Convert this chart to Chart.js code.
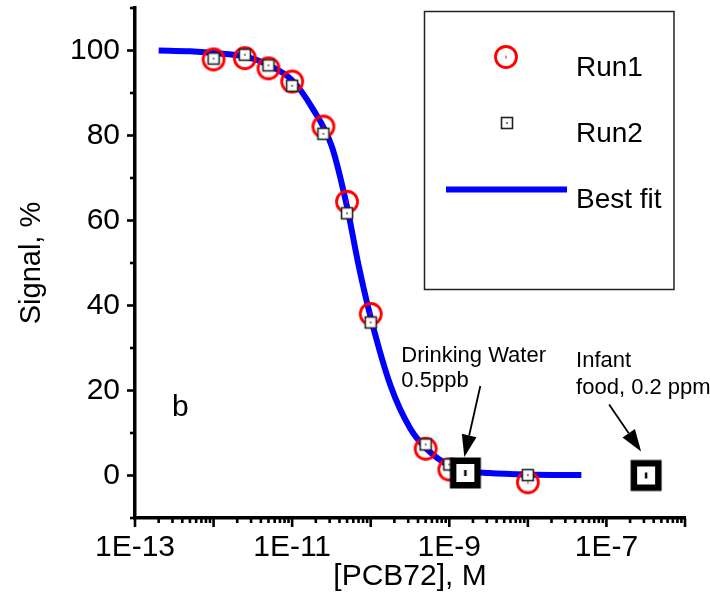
<!DOCTYPE html>
<html>
<head>
<meta charset="utf-8">
<script src="https://cdn.jsdelivr.net/npm/chart.js@4.4.1/dist/chart.umd.min.js"></script>
<style>
  html, body { margin: 0; padding: 0; background: #fff; }
  #wrap { width: 710px; height: 610px; }
</style>
</head>
<body>
<div id="wrap"><canvas id="chart" width="710" height="610"></canvas></div>
<script>
// ─── DATA ─────────────────────────────────────────────────────
const runConc   = [1e-12, 2.5e-12, 5e-12, 1e-11, 2.5e-11, 5e-11, 1e-10, 5e-10, 1e-9, 1e-8];
const run1      = [97.9, 98.2, 95.8, 92.7, 82.1, 64.4, 38.0, 6.3, 1.4, -1.6];
const run2      = [98.1, 99.0, 96.5, 91.7, 80.4, 61.7, 36.0, 7.3, 2.6, 0.1];

const fitConc   = [2e-13, 5e-13, 1e-12, 2.5e-12, 5e-12, 1e-11, 1.8e-11, 3.2e-11, 5e-11, 7e-11,
                   1e-10, 1.8e-10, 3.2e-10, 5e-10, 1e-9, 1.6e-9, 3.2e-9, 1e-8, 4.8e-8];
const fitSignal = [100.0, 99.8, 99.4, 98.6, 96.6, 93.0, 86.5, 77.4, 63.2, 49.5,
                   37.2, 21.0, 11.0, 6.5, 2.3, 1.1, 0.6, 0.25, 0.1];

const limitConc   = [1.6e-9, 3.2e-7];
const limitSignal = [0.6, 0];
const limitText   = [['Drinking Water', '0.5ppb'], ['Infant', 'food, 0.2 ppm']];

const xDecades    = [1e-13, 1e-12, 1e-11, 1e-10, 1e-9, 1e-8, 1e-7, 1e-6];
const xLabelValue = [1e-13, 1e-11, 1e-9, 1e-7];
const xLabelText  = ['1E-13', '1E-11', '1E-9', '1E-7'];
const yLabelValue = [0, 20, 40, 60, 80, 100];
const yMinorValue = [-10, 10, 30, 50, 70, 90, 110];

const FONT = '"Liberation Sans", Arial, sans-serif';

// ─── MARKERS ──────────────────────────────────────────────────
function markerCanvas(size, paint) {
    const c = document.createElement('canvas');
    c.width = size; c.height = size;
    paint(c.getContext('2d'), size / 2);
    return c;
}
const circleMark = markerCanvas(28, (g, m) => {
    g.strokeStyle = '#ff0000'; g.lineWidth = 2.8;
    g.beginPath(); g.arc(m, m, 10.5, 0, Math.PI * 2); g.stroke();
    g.fillStyle = '#ff0000'; g.fillRect(m - 0.5, m - 1.5, 1, 3);
});
const squareMark = markerCanvas(16, (g, m) => {
    g.fillStyle = '#fff'; g.fillRect(m - 5.5, m - 5.5, 11, 11);
    g.strokeStyle = '#222'; g.lineWidth = 1.6; g.strokeRect(m - 5.5, m - 5.5, 11, 11);
    g.fillStyle = '#000'; g.fillRect(m - 0.5, m - 1, 1, 2);
});
const limitMark = markerCanvas(36, (g, m) => {
    g.fillStyle = '#fff'; g.fillRect(m - 12, m - 12, 24, 24);
    g.strokeStyle = '#000'; g.lineWidth = 6.5; g.strokeRect(m - 12.25, m - 12.25, 24.5, 24.5);
    g.fillStyle = '#000'; g.fillRect(m - 1.25, m - 3, 2.5, 6);
});

// ─── PLUGINS ──────────────────────────────────────────────────
const whiteBg = {
    id: 'whiteBg',
    beforeDraw(chart) {
        const c = chart.ctx;
        c.save(); c.fillStyle = '#fff'; c.fillRect(0, 0, chart.width, chart.height); c.restore();
    }
};

// ticks drawn by hand so major / minor can have different lengths
const tickMarks = {
    id: 'tickMarks',
    afterDraw(chart) {
        const c = chart.ctx, xs = chart.scales.x, ys = chart.scales.y;
        const area = chart.chartArea;
        c.save();
        c.strokeStyle = '#000'; c.lineWidth = 2.6;
        const vline = (x, len) => { c.beginPath(); c.moveTo(x, area.bottom); c.lineTo(x, area.bottom + len); c.stroke(); };
        const hline = (y, len) => { c.beginPath(); c.moveTo(area.left, y); c.lineTo(area.left - len, y); c.stroke(); };
        xDecades.forEach((d, i) => {
            vline(xs.getPixelForValue(d), 9);
            if (i < xDecades.length - 1) {
                for (let k = 2; k <= 9; k++) vline(xs.getPixelForValue(d * k), 5);
            }
        });
        yLabelValue.forEach(v => hline(ys.getPixelForValue(v), 8));
        yMinorValue.forEach(v => hline(ys.getPixelForValue(v), 5));
        c.restore();
    }
};

function arrow(c, x1, y1, x2, y2, headLen, headW) {
    const a = Math.atan2(y2 - y1, x2 - x1);
    const bx = x2 - headLen * Math.cos(a), by = y2 - headLen * Math.sin(a);
    c.beginPath(); c.moveTo(x1, y1); c.lineTo(bx, by); c.stroke();
    c.beginPath(); c.moveTo(x2, y2);
    c.lineTo(bx + headW / 2 * Math.sin(a), by - headW / 2 * Math.cos(a));
    c.lineTo(bx - headW / 2 * Math.sin(a), by + headW / 2 * Math.cos(a));
    c.closePath(); c.fill();
}

const notes = {
    id: 'notes',
    afterDraw(chart) {
        const c = chart.ctx, xs = chart.scales.x, ys = chart.scales.y;
        const area = chart.chartArea;
        c.save();
        c.fillStyle = '#000'; c.strokeStyle = '#000';
        c.textAlign = 'left'; c.textBaseline = 'alphabetic';

        // panel letter
        c.font = '30px ' + FONT;
        c.fillText('b', area.left + 37, 416);

        // limit labels with arrows, placed from the marker position
        const lay = [
            { dx: -64, dy: [-111, -86], tail: [15, -87], tip: [-1, -16] },
            { dx: -70, dy: [-109, -82], tail: [-37, -71], tip: [-5, -24] },
        ];
        c.font = '22px ' + FONT;
        limitConc.forEach((v, i) => {
            const px = xs.getPixelForValue(v), py = ys.getPixelForValue(limitSignal[i]);
            const L = lay[i];
            limitText[i].forEach((t, j) => c.fillText(t, px + L.dx, py + L.dy[j]));
            c.lineWidth = 1.8;
            arrow(c, px + L.tail[0], py + L.tail[1], px + L.tip[0], py + L.tip[1], 22, 15);
        });

        // legend box
        c.lineWidth = 1.5; c.strokeStyle = '#222';
        c.strokeRect(424.5, 11.5, 249.5, 278);
        c.drawImage(circleMark, 506 - 14, 57 - 14);
        c.drawImage(squareMark, 507 - 8, 123 - 8);
        c.strokeStyle = '#0000ff'; c.lineWidth = 6;
        c.beginPath(); c.moveTo(446, 189.5); c.lineTo(567, 189.5); c.stroke();
        c.font = '28px ' + FONT;
        c.fillText(chart.data.datasets[1].label, 576, 76);
        c.fillText(chart.data.datasets[2].label, 576, 142);
        c.fillText(chart.data.datasets[0].label, 576, 208);
        c.restore();
    }
};

// ─── CHART ────────────────────────────────────────────────────
const pts = (xs, ys) => xs.map((x, i) => ({ x: x, y: ys[i] }));

new Chart(document.getElementById('chart'), {
    type: 'scatter',
    data: {
        datasets: [
            {
                label: 'Best fit', type: 'line', data: pts(fitConc, fitSignal),
                borderColor: '#0000ff', borderWidth: 6, pointRadius: 0,
                cubicInterpolationMode: 'monotone', fill: false, order: 3
            },
            {
                label: 'Run1', data: pts(runConc, run1),
                pointStyle: circleMark, pointRadius: 12, order: 2
            },
            {
                label: 'Run2', data: pts(runConc, run2),
                pointStyle: squareMark, pointRadius: 8, order: 1
            },
            {
                label: 'Limits', data: pts(limitConc, limitSignal),
                pointStyle: limitMark, pointRadius: 18, order: 0
            }
        ]
    },
    options: {
        responsive: false,
        animation: false,
        events: [],
        layout: { autoPadding: false, padding: { top: 8, right: 25, left: 0, bottom: 0 } },
        plugins: { legend: { display: false }, tooltip: { enabled: false } },
        scales: {
            x: {
                type: 'logarithmic', min: 1e-13, max: 1e-6,
                afterBuildTicks: s => { s.ticks = xLabelValue.map(v => ({ value: v })); },
                afterFit: s => { s.height = 92; s.paddingLeft = 0; s.paddingRight = 0; },
                grid: { display: false, drawTicks: false },
                border: { display: true, color: '#000', width: 3.5 },
                ticks: {
                    color: '#000', font: { size: 30, family: FONT }, padding: 12,
                    maxRotation: 0, autoSkip: false,
                    callback: (v, i) => xLabelText[i]
                },
                title: {
                    display: true, text: '[PCB72], M', color: '#000',
                    font: { size: 30, family: FONT }, padding: { top: 0, bottom: 15 }
                }
            },
            y: {
                min: -10, max: 110,
                afterBuildTicks: s => { s.ticks = yLabelValue.map(v => ({ value: v })); },
                afterFit: s => { s.width = 135; s.paddingTop = 0; s.paddingBottom = 0; },
                grid: { display: false, drawTicks: false },
                border: { display: true, color: '#000', width: 3.5 },
                ticks: {
                    color: '#000', font: { size: 30, family: FONT, lineHeight: 0.5 }, padding: 15,
                    callback: v => String(v)
                },
                title: {
                    display: true, text: 'Signal, %', color: '#000',
                    font: { size: 29, family: FONT }, padding: { top: 15, bottom: 0 }
                }
            }
        }
    },
    plugins: [whiteBg, tickMarks, notes]
});
</script>
</body>
</html>
